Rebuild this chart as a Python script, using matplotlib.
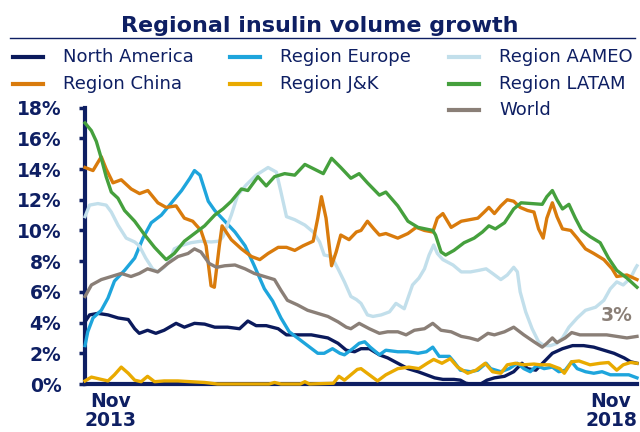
import matplotlib
matplotlib.use('Agg')
import matplotlib.pyplot as plt
from matplotlib.lines import Line2D
from matplotlib.ticker import FuncFormatter

# (month since Nov 2013, growth %)
NORTH_AMERICA = [
    (0, 4.05), (0.5, 4.5), (1.4, 4.6), (2.5, 4.5), (3.6, 4.3), (4.7, 4.2), (5.4, 3.6), (5.9, 3.3),
    (6.8, 3.5), (7.7, 3.3), (8.6, 3.5), (9.9, 3.95), (10.8, 3.7), (11.9, 3.95), (13.0, 3.9),
    (14.1, 3.7), (15.5, 3.7), (16.8, 3.6), (17.7, 4.1), (18.6, 3.8), (19.7, 3.8), (21.0, 3.6),
    (21.9, 3.2), (23.1, 3.2), (24.6, 3.2), (26.4, 3.0), (27.5, 2.65), (28.4, 2.2), (29.3, 2.1),
    (30.0, 2.3), (30.9, 2.3), (32.0, 1.9), (32.9, 1.7), (34.0, 1.35), (35.1, 1.0), (36.2, 0.8),
    (37.1, 0.6), (38.0, 0.4), (38.9, 0.3), (40.1, 0.3), (40.8, 0.25), (41.4, 0.05), (41.9, 0.0),
    (43.0, 0.0), (43.7, 0.25), (44.5, 0.4), (45.6, 0.5), (46.6, 0.8), (47.5, 1.35), (48.1, 1.0),
    (49.0, 0.9), (49.9, 1.45), (50.8, 2.0), (51.9, 2.3), (53.0, 2.5), (54.2, 2.5), (55.3, 2.4),
    (56.4, 2.2), (57.5, 2.0), (58.6, 1.7), (59.3, 1.45), (60, 1.35),
]
EUROPE = [
    (0, 2.5), (0.3, 3.4), (0.87, 4.3), (1.77, 4.8), (2.5, 5.6), (3.2, 6.7), (4.3, 7.4), (5.4, 8.2),
    (6.3, 9.5), (7.2, 10.5), (8.3, 11.0), (9.4, 11.8), (10.5, 12.6), (11.4, 13.4), (11.9, 13.9),
    (12.5, 13.6), (13.4, 11.9), (14.1, 11.3), (15.2, 10.6), (16.3, 9.9), (17.4, 9.0), (18.4, 7.7),
    (19.5, 6.2), (20.4, 5.4), (21.3, 4.3), (22.2, 3.4), (23.1, 3.0), (24.2, 2.5), (25.3, 2.0),
    (26.0, 2.0), (26.9, 2.3), (27.7, 2.0), (28.2, 1.9), (29.1, 2.3), (29.8, 2.65), (30.4, 2.75),
    (31.0, 2.4), (32.0, 1.9), (32.7, 2.2), (34.0, 2.1), (35.1, 2.1), (36.2, 2.0), (37.1, 2.1),
    (37.8, 2.4), (38.5, 1.8), (39.6, 1.8), (40.1, 1.45), (40.8, 0.9), (41.9, 0.8), (42.7, 0.9),
    (43.6, 1.35), (44.1, 1.0), (45.2, 0.8), (46.1, 1.0), (47.0, 1.35), (47.7, 1.0), (48.4, 0.8),
    (49.1, 1.2), (49.9, 1.0), (50.8, 1.1), (51.5, 0.8), (52.2, 0.9), (52.9, 1.45), (53.5, 1.0),
    (54.4, 0.8), (55.3, 0.7), (56.2, 0.8), (57.1, 0.6), (58.2, 0.6), (59.1, 0.6), (60, 0.4),
]
AAMEO = [
    (0, 10.9), (0.5, 11.65), (1.4, 11.75), (2.3, 11.65), (2.86, 11.2), (3.58, 10.35), (4.48, 9.5),
    (5.4, 9.25), (5.9, 9.0), (6.6, 8.2), (7.35, 7.5), (7.9, 7.3), (8.6, 7.6), (9.2, 8.0), (9.7, 8.8),
    (10.4, 9.0), (11.5, 9.2), (12.6, 9.3), (13.7, 9.25), (14.6, 9.3), (15.0, 9.6), (15.9, 11.0),
    (16.6, 12.3), (17.5, 12.95), (18.6, 13.6), (19.9, 14.1), (20.8, 13.8), (21.3, 12.5),
    (21.9, 10.9), (22.8, 10.7), (23.9, 10.35), (24.8, 9.9), (25.5, 9.25), (26.0, 8.4), (26.8, 8.3),
    (27.5, 7.5), (28.2, 6.65), (28.9, 5.7), (29.5, 5.5), (30.0, 5.25), (30.7, 4.5), (31.3, 4.4),
    (32.2, 4.5), (33.1, 4.7), (33.8, 5.25), (34.7, 4.9), (35.6, 6.45), (36.3, 6.9), (36.9, 7.5),
    (37.4, 8.4), (37.9, 9.05), (38.3, 8.5), (38.9, 8.1), (40.0, 7.75), (40.9, 7.3), (41.9, 7.3),
    (42.8, 7.4), (43.6, 7.5), (44.3, 7.2), (45.2, 6.8), (45.9, 7.1), (46.6, 7.6), (47.0, 7.3),
    (47.3, 6.0), (47.9, 4.7), (48.6, 3.6), (49.3, 2.75), (49.9, 2.5), (50.6, 2.5), (51.3, 2.65),
    (51.9, 3.0), (52.6, 3.7), (53.5, 4.3), (54.4, 4.8), (55.5, 5.0), (56.4, 5.45), (57.1, 6.2),
    (57.8, 6.65), (58.5, 6.45), (59.3, 6.9), (59.8, 7.5), (60, 7.7),
]
CHINA = [
    (0, 14.1), (0.87, 13.9), (1.77, 14.8), (2.3, 14.0), (3.04, 13.1), (3.94, 13.3), (5.02, 12.7),
    (5.93, 12.4), (6.83, 12.6), (7.92, 11.8), (8.82, 11.5), (9.9, 11.6), (10.8, 10.8), (11.71, 10.6),
    (12.6, 10.0), (13.16, 9.0), (13.7, 6.4), (14.06, 6.3), (14.6, 9.0), (14.9, 10.3), (15.9, 9.4),
    (17.0, 8.8), (18.1, 8.3), (19.0, 8.1), (19.9, 8.5), (21.0, 8.9), (21.9, 8.9), (22.8, 8.7),
    (23.7, 9.0), (24.8, 9.3), (25.3, 10.8), (25.7, 12.2), (26.2, 10.8), (26.8, 7.7), (27.3, 8.6),
    (27.8, 9.7), (28.7, 9.4), (29.5, 9.9), (30.0, 10.0), (30.7, 10.6), (31.4, 10.1), (32.0, 9.7),
    (32.7, 9.8), (34.0, 9.5), (35.1, 9.8), (36.0, 10.2), (36.9, 10.0), (37.8, 9.9), (38.3, 10.8),
    (38.9, 11.1), (39.8, 10.2), (40.9, 10.6), (41.8, 10.7), (42.7, 10.8), (43.4, 11.2),
    (43.9, 11.5), (44.5, 11.1), (45.2, 11.6), (45.9, 12.0), (46.6, 11.9), (47.3, 11.5),
    (48.1, 11.3), (48.8, 11.2), (49.3, 10.1), (49.8, 9.5), (50.2, 10.8), (50.8, 11.8), (51.3, 10.9),
    (51.9, 10.1), (52.8, 10.0), (53.5, 9.5), (54.4, 8.8), (55.3, 8.5), (56.4, 8.1), (57.3, 7.5),
    (57.8, 7.0), (58.9, 7.1), (60, 6.8),
]
JK = [
    (0, 0.2), (0.7, 0.45), (1.77, 0.3), (2.5, 0.2), (3.2, 0.6), (3.94, 1.1), (4.7, 0.7), (5.4, 0.25),
    (6.1, 0.15), (6.8, 0.5), (7.56, 0.15), (8.6, 0.2), (10.1, 0.2), (11.5, 0.15), (13.0, 0.1),
    (14.4, 0.0), (20.0, 0.0), (20.6, 0.1), (21.3, 0.0), (23.4, 0.0), (23.9, 0.15), (24.4, 0.0),
    (27.0, 0.05), (27.6, 0.5), (28.2, 0.25), (28.9, 0.6), (29.6, 0.95), (30.0, 1.0), (30.9, 0.6),
    (31.8, 0.2), (32.7, 0.6), (34.0, 1.0), (35.2, 1.1), (36.3, 1.0), (37.2, 1.35), (37.9, 1.6),
    (38.8, 1.35), (39.7, 1.65), (40.5, 1.1), (41.6, 0.7), (42.5, 0.9), (43.5, 1.35), (44.3, 0.8),
    (45.2, 0.7), (45.9, 1.25), (46.8, 1.35), (47.7, 1.25), (48.8, 1.3), (49.5, 1.25), (50.5, 1.25),
    (51.6, 1.0), (52.1, 0.7), (52.9, 1.45), (53.7, 1.5), (54.9, 1.25), (56.0, 1.35), (56.9, 1.4),
    (57.8, 0.9), (58.5, 1.25), (59.3, 1.4), (60, 1.35),
]
LATAM = [
    (0, 17.0), (0.69, 16.5), (1.23, 15.8), (1.77, 14.7), (2.3, 13.5), (2.86, 12.5), (3.58, 12.1),
    (4.3, 11.3), (5.4, 10.6), (6.5, 9.7), (7.56, 8.9), (8.82, 8.1), (9.7, 8.5), (10.8, 9.3),
    (11.9, 9.8), (13.0, 10.3), (14.1, 11.0), (15.0, 11.4), (15.9, 11.9), (17.0, 12.7), (17.7, 12.6),
    (18.8, 13.5), (19.7, 12.9), (20.6, 13.5), (21.7, 13.7), (22.8, 13.6), (23.9, 14.3), (24.9, 14.0),
    (25.9, 13.7), (26.8, 14.7), (27.8, 14.1), (28.9, 13.4), (29.8, 13.7), (30.7, 13.1), (32.0, 12.3),
    (32.7, 12.5), (34.0, 11.6), (35.1, 10.6), (36.2, 10.2), (37.8, 10.0), (38.1, 9.7), (38.7, 8.6),
    (39.2, 8.4), (40.1, 8.7), (41.2, 9.2), (42.3, 9.5), (43.2, 9.9), (43.9, 10.3), (44.6, 10.1),
    (45.6, 10.5), (46.6, 11.4), (47.4, 11.8), (49.7, 11.7), (50.2, 12.2), (50.8, 12.6), (51.3, 12.0),
    (51.9, 11.4), (52.6, 11.7), (53.3, 10.8), (54.0, 10.0), (54.9, 9.6), (56.0, 9.2), (56.9, 8.2),
    (57.8, 7.4), (58.9, 6.9), (60, 6.3),
]
WORLD = [
    (0, 5.7), (0.7, 6.45), (1.77, 6.8), (2.86, 7.0), (3.94, 7.2), (5.0, 7.0), (5.9, 7.2), (6.8, 7.5),
    (7.9, 7.3), (9.0, 7.85), (10.1, 8.3), (11.2, 8.5), (11.9, 8.8), (12.6, 8.6), (13.5, 7.85),
    (14.3, 7.6), (15.2, 7.7), (16.3, 7.75), (17.4, 7.5), (18.4, 7.2), (19.5, 7.0), (20.6, 6.8),
    (21.3, 6.1), (22.0, 5.45), (23.1, 5.15), (24.2, 4.8), (25.3, 4.6), (26.4, 4.4), (27.5, 4.05),
    (28.4, 3.7), (28.9, 3.6), (29.8, 3.95), (30.9, 3.6), (32.0, 3.3), (32.9, 3.4), (34.0, 3.4),
    (34.9, 3.2), (35.8, 3.5), (36.9, 3.6), (37.8, 3.95), (38.7, 3.5), (39.8, 3.4), (40.9, 3.1),
    (41.8, 3.0), (42.7, 2.85), (43.8, 3.3), (44.5, 3.2), (45.6, 3.4), (46.6, 3.7), (47.7, 3.2),
    (48.8, 2.75), (49.7, 2.4), (50.2, 2.65), (50.8, 3.0), (51.3, 2.7), (52.2, 3.0), (52.9, 3.35),
    (53.8, 3.2), (55.3, 3.2), (56.7, 3.2), (57.8, 3.1), (58.9, 3.0), (60, 3.1),
]

X_LABELS = ['Nov\n2013', 'Nov\n2018']
Y_TICKS = [0, 2, 4, 6, 8, 10, 12, 14, 16, 18]
WORLD_NOTE = '3%'

NAVY = '#0e1f63'
SERIES = [
    # (label, data, colour, legend column, legend row)
    ('North America', NORTH_AMERICA, '#0b1a5c', 0, 0),
    ('Region Europe', EUROPE, '#1ea5dc', 1, 0),
    ('Region AAMEO', AAMEO, '#c2dfeb', 2, 0),
    ('Region China', CHINA, '#d97b0c', 0, 1),
    ('Region J&K', JK, '#e9aa00', 1, 1),
    ('Region LATAM', LATAM, '#45a03d', 2, 1),
    ('World', WORLD, '#8a7f77', 2, 2),
]

W, H = 640, 432
fig = plt.figure(figsize=(W / 100, H / 100), dpi=100)
ax = fig.add_axes([85 / W, 1 - 384 / H, 552 / W, 276.4 / H])

for label, pts, color, col, row in SERIES:
    xs = [p[0] for p in pts]
    ys = [p[1] for p in pts]
    ax.plot(xs, ys, color=color, linewidth=2.4, solid_joinstyle='round', clip_on=False, zorder=3)

ax.set_xlim(0, 60)
ax.set_ylim(0, 18)
ax.set_yticks(Y_TICKS)
ax.yaxis.set_major_formatter(FuncFormatter(lambda v, _: '{:d}%'.format(int(v))))
ax.set_xticks([0, 60])
ax.set_xticklabels(X_LABELS)
xt = ax.get_xticklabels()
xt[0].set_ha('left')
xt[1].set_ha('right')
for t in xt:
    t.set_multialignment('center')
    t.set_linespacing(0.95)

for side in ('top', 'right'):
    ax.spines[side].set_visible(False)
for side in ('left', 'bottom'):
    ax.spines[side].set_color(NAVY)
    ax.spines[side].set_linewidth(3)
    ax.spines[side].set_zorder(2)
ax.tick_params(axis='y', length=4, width=2.5, color=NAVY, pad=13,
               labelsize=13.5, labelcolor=NAVY)
ax.tick_params(axis='x', length=0, pad=6, labelsize=13.5, labelcolor=NAVY)
for t in ax.get_xticklabels() + ax.get_yticklabels():
    t.set_fontweight('bold')

# world end label
wx, wy = WORLD[-1]
ax.annotate(WORLD_NOTE, (wx, wy), xytext=(-3, 15), textcoords='offset points',
            ha='right', va='center', fontsize=13.5, fontweight='bold', color='#8a7f77')

# title with rule underneath
fig.text(0.5, 1 - 32 / H, 'Regional insulin volume growth', ha='center', va='baseline',
         fontsize=16, fontweight='bold', color=NAVY)
fig.add_artist(Line2D([10 / W, 635 / W], [1 - 38 / H] * 2, color=NAVY, linewidth=1))

# legend laid out by hand: 3 columns, World alone in the third row
col_x = [13, 230, 449]
row_y = [57, 84, 110]
for label, pts, color, col, row in SERIES:
    x0, y = col_x[col], row_y[row]
    fig.add_artist(Line2D([x0 / W, (x0 + 30) / W], [1 - y / H] * 2, color=color, linewidth=3))
    fig.text((x0 + 50) / W, 1 - y / H, label, ha='left', va='center', fontsize=13, color=NAVY)

fig.savefig('out.png', dpi=100, facecolor='white')
